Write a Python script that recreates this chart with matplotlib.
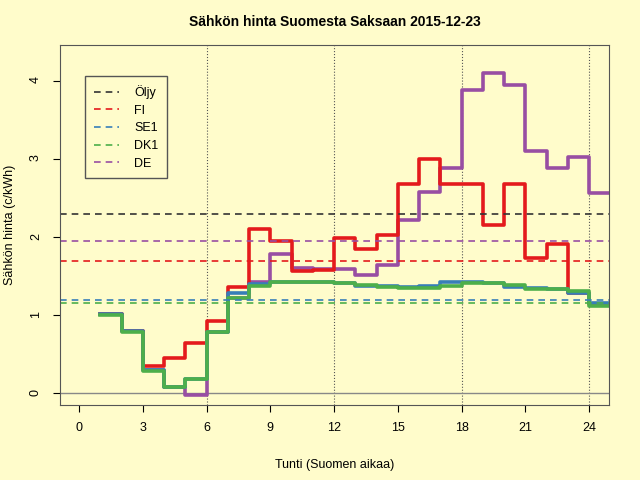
import matplotlib
matplotlib.use("Agg")
import matplotlib.pyplot as plt
import numpy as np

plt.rcParams['font.family'] = ['Liberation Sans', 'DejaVu Sans']

hours = list(range(1, 25))
fi = [1.01, 0.80, 0.35, 0.45, 0.65, 0.93, 1.36, 2.10, 1.95, 1.57, 1.58, 1.99,
      1.85, 2.03, 2.68, 3.00, 2.68, 2.68, 2.16, 2.68, 1.73, 1.91, 1.28, 1.14]
se1 = [1.01, 0.80, 0.30, 0.08, 0.18, 0.78, 1.28, 1.40, 1.43, 1.43, 1.42, 1.41,
       1.38, 1.37, 1.36, 1.38, 1.42, 1.43, 1.41, 1.36, 1.35, 1.33, 1.29, 1.15]
dk1 = [1.00, 0.79, 0.29, 0.08, 0.18, 0.78, 1.22, 1.38, 1.42, 1.42, 1.42, 1.41,
       1.39, 1.36, 1.35, 1.35, 1.38, 1.41, 1.41, 1.39, 1.34, 1.33, 1.31, 1.12]
de = [1.01, 0.80, 0.30, 0.08, -0.02, 0.78, 1.22, 1.43, 1.78, 1.60, 1.59, 1.59,
      1.51, 1.64, 2.22, 2.58, 2.88, 3.88, 4.10, 3.95, 3.10, 2.88, 3.03, 2.57]

avg_names = ['Öljy', 'FI', 'SE1', 'DK1', 'DE']
avg_values = [2.30, 1.70, 1.19, 1.15, 1.95]
avg_colors = ['#333333', '#E41A1C', '#377EB8', '#4DAF4A', '#984EA3']

bg = '#FFFCCB'
fig = plt.figure(figsize=(6.4, 4.8), dpi=100, facecolor=bg)
ax = fig.add_axes([60/640, 75/480, 549/640, 360/480], facecolor=bg)

for v in [6, 12, 18, 24]:
    ax.axvline(v, color='#555555', linestyle=':', linewidth=0.8)
ax.axhline(0, color='#888888', linewidth=1)

x = hours + [25]
for vals, c in [(de, '#984EA3'), (fi, '#E41A1C'), (se1, '#377EB8'), (dk1, '#4DAF4A')]:
    ax.step(x, vals + [vals[-1]], where='post', color=c, linewidth=2.6)

for name, v, c in zip(avg_names, avg_values, avg_colors):
    ax.axhline(v, color=c, linestyle=(0, (4, 3)), linewidth=1.2, label=name)

ax.set_xlim(-0.9, 24.94)
ax.set_ylim(-0.15, 4.46)
ax.set_xticks(range(0, 25, 3))
ax.set_yticks(range(0, 5))
ax.tick_params(axis='y', labelrotation=90, pad=8)
ax.tick_params(axis='x', pad=7)
ax.tick_params(labelsize=9, length=5)
for s in ax.spines.values():
    s.set_color('#555555')
ax.set_xlabel('Tunti (Suomen aikaa)', fontsize=9, labelpad=18)
ax.set_ylabel('Sähkön hinta (c/kWh)', fontsize=9, labelpad=10)
ax.set_title('Sähkön hinta Suomesta Saksaan 2015-12-23', fontsize=10, fontweight='bold', pad=14)
leg = ax.legend(loc='upper left', bbox_to_anchor=(0.035, 0.93), fontsize=9, fancybox=False,
                facecolor=bg, edgecolor='#555555', framealpha=1, handlelength=2,
                labelspacing=0.45, borderpad=0.7, handletextpad=1.2)

fig.savefig('out.png', dpi=100, facecolor=bg)
